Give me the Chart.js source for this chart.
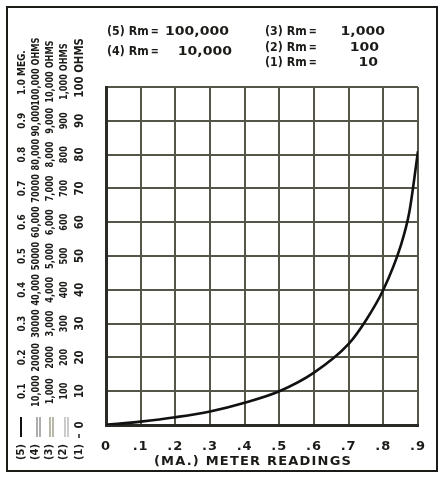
<!DOCTYPE html>
<html>
<head>
<meta charset="utf-8">
<script src="https://cdn.jsdelivr.net/npm/chart.js@4/dist/chart.umd.min.js"></script>
<style>
  html, body { margin: 0; padding: 0; background: #fff; }
  #wrap { width: 441px; height: 477px; }
</style>
</head>
<body>
<div id="wrap"><canvas id="ohmChart" width="441" height="477"></canvas></div>
<script>
// meter reading (mA) vs. resistance, read on the Rm = 10 scale
const meterReadings = [0, 0.1, 0.2, 0.3, 0.4, 0.5, 0.6, 0.7, 0.75, 0.8, 0.85, 0.875, 0.9];
const curveValues   = [0, 1.0, 2.3, 4.0, 6.6, 10, 15.5, 24, 31, 40, 53, 63, 81];

const xTickLabels = ['0', '.1', '.2', '.3', '.4', '.5', '.6', '.7', '.8', '.9'];
const xTitle = '(MA.) METER READINGS';

// resistance scales, one per meter resistance, from the 0.1 line upward
const scale1 = ['0', '10', '20', '30', '40', '50', '60', '70', '80', '90', '100'];
const scale2 = ['100', '200', '300', '400', '500', '600', '700', '800', '900', '1,000'];
const scale3 = ['1,000', '2000', '3,000', '4,000', '5,000', '6,000', '7,000', '8,000', '9,000', '10,000'];
const scale4 = ['10,000', '20000', '30000', '40,000', '50000', '60,000', '70000', '80,000', '90,000', '100,000'];
const scale5 = ['0.1', '0.2', '0.3', '0.4', '0.5', '0.6', '0.7', '0.8', '0.9', '1.0'];
const scaleUnits = ['OHMS', 'OHMS', 'OHMS', 'OHMS', 'MEG.'];

const rmKeys   = ['(1)', '(2)', '(3)', '(4)', '(5)'];
const rmValues = ['10', '100', '1,000', '10,000', '100,000'];

const FONT = '"DejaVu Sans", sans-serif';
const INK = '#1b1b18';
const GRID = '#55554a';

function rotText(ctx, text, x, y, size, squeeze, align) {
  ctx.save();
  ctx.translate(x, y);
  ctx.rotate(-Math.PI / 2);
  ctx.scale(squeeze, 1);
  ctx.font = 'bold ' + size + 'px ' + FONT;
  ctx.textAlign = align || 'center';
  ctx.textBaseline = 'middle';
  ctx.fillText(text, 0, 0);
  ctx.restore();
}

// number centred on the grid line, unit word running on above it
function rotLabel(ctx, num, unit, x, y, size, squeeze) {
  rotText(ctx, num, x, y, size, squeeze, 'center');
  if (!unit) return;
  ctx.save();
  ctx.font = 'bold ' + size + 'px ' + FONT;
  const w = ctx.measureText(num).width;
  const gap = ctx.measureText(' ').width;
  ctx.restore();
  rotText(ctx, unit, x, y - (w / 2 + gap) * squeeze, size, squeeze, 'left');
}

// horizontal text squeezed or stretched along x, returns drawn width
function flatText(ctx, text, x, y, size, sx, align) {
  ctx.save();
  ctx.translate(x, y);
  ctx.scale(sx, 1);
  ctx.font = 'bold ' + size + 'px ' + FONT;
  ctx.textAlign = align;
  ctx.textBaseline = 'middle';
  ctx.fillText(text, 0, 0);
  const w = ctx.measureText(text).width * sx;
  ctx.restore();
  return w;
}

const ohmScales = {
  id: 'ohmScales',
  beforeDraw(chart) {
    chart.ctx.letterSpacing = '1px';
  },
  beforeDatasetsDraw(chart) {
    chart.ctx.letterSpacing = '0px';
  },
  afterDraw(chart) {
    const ctx = chart.ctx;
    const y = chart.scales.y;
    ctx.save();
    ctx.letterSpacing = '0px';
    ctx.fillStyle = INK;
    ctx.strokeStyle = INK;

    // outer frame
    ctx.lineWidth = 2;
    ctx.strokeRect(7, 7, 430, 464);

    // x axis title
    ctx.font = 'bold 13px ' + FONT;
    ctx.letterSpacing = '1.2px';
    ctx.textAlign = 'center';
    ctx.textBaseline = 'middle';
    ctx.fillText(xTitle, 253, 462);
    ctx.letterSpacing = '0px';

    // scale columns, (1) nearest the grid
    const cols = [
      { labels: scale1, first: 0, x: 80, size: 12, sq: 0.85 },
      { labels: scale2, first: 1, x: 64, size: 10.5, sq: 0.78 },
      { labels: scale3, first: 1, x: 50, size: 10.5, sq: 0.78 },
      { labels: scale4, first: 1, x: 36, size: 10.5, sq: 0.78 },
      { labels: scale5, first: 1, x: 22, size: 10.5, sq: 0.85 }
    ];
    cols.forEach((c, ci) => {
      c.labels.forEach((t, i) => {
        const v = (i + c.first) * 10;
        const last = i === c.labels.length - 1;
        rotLabel(ctx, t, last ? scaleUnits[ci] : null, c.x, y.getPixelForValue(v), c.size, c.sq);
      });
      rotText(ctx, rmKeys[ci], c.x - 1, 452, 11, 0.9, 'center');
    });

    // line keys at the foot of each column
    const y0 = y.getPixelForValue(0);
    ctx.lineWidth = 2;
    ctx.strokeStyle = '#111';
    ctx.beginPath(); ctx.moveTo(21, y0 - 8); ctx.lineTo(21, y0 + 12); ctx.stroke();
    [[37, '#777'], [50, '#8a8a70'], [65, '#aaa']].forEach(([kx, col]) => {
      ctx.strokeStyle = col;
      ctx.lineWidth = 1.2;
      ctx.beginPath();
      ctx.moveTo(kx, y0 - 8); ctx.lineTo(kx, y0 + 12);
      ctx.moveTo(kx + 3, y0 - 8); ctx.lineTo(kx + 3, y0 + 12);
      ctx.stroke();
    });
    ctx.strokeStyle = '#222';
    ctx.lineWidth = 1.5;
    ctx.beginPath(); ctx.moveTo(79, y0 + 9); ctx.lineTo(79, y0 + 13); ctx.stroke();

    // meter resistance key
    const rows = [
      { k: 4, x: 107, vx: 229, y: 32 },
      { k: 3, x: 107, vx: 232, y: 52 },
      { k: 2, x: 265, vx: 385, y: 32 },
      { k: 1, x: 265, vx: 379, y: 48 },
      { k: 0, x: 265, vx: 378, y: 63 }
    ];
    rows.forEach(r => {
      const w = flatText(ctx, rmKeys[r.k] + ' Rm', r.x, r.y, 13, 0.85, 'left');
      flatText(ctx, '=', r.x + w + 6, r.y, 12, 0.8, 'center');
      flatText(ctx, rmValues[r.k], r.vx, r.y, 13, 1.08, 'right');
    });
    ctx.restore();
  }
};

new Chart(document.getElementById('ohmChart'), {
  type: 'line',
  data: {
    datasets: [{
      data: meterReadings.map((m, i) => ({ x: m, y: curveValues[i] })),
      borderColor: '#111',
      borderWidth: 2.6,
      pointRadius: 0,
      cubicInterpolationMode: 'monotone',
      fill: false
    }]
  },
  options: {
    responsive: false,
    animation: false,
    devicePixelRatio: 1,
    layout: { padding: { left: 106, right: 23, top: 87, bottom: 5 } },
    plugins: { legend: { display: false }, tooltip: { enabled: false } },
    scales: {
      x: {
        type: 'linear',
        min: 0,
        max: 0.9,
        afterFit: s => { s.height = 47; },
        ticks: {
          stepSize: 0.1,
          padding: 14,
          color: INK,
          font: { family: FONT, size: 13, weight: 'bold' },
          callback: v => xTickLabels[Math.round(v * 10)]
        },
        grid: { color: GRID, lineWidth: 2, drawTicks: false },
        border: { color: '#2a2a26', width: 3 }
      },
      y: {
        min: 0,
        max: 100,
        afterFit: s => { s.width = 0; },
        ticks: { stepSize: 10, display: false },
        grid: { color: GRID, lineWidth: 2, drawTicks: false },
        border: { color: '#2a2a26', width: 3 }
      }
    }
  },
  plugins: [ohmScales]
});
</script>
</body>
</html>
